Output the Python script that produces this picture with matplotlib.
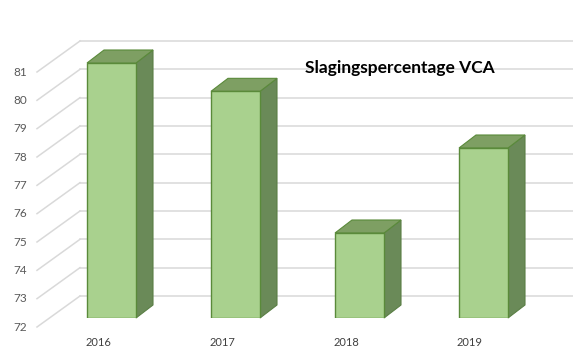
import numpy as np
import matplotlib.pyplot as plt
from matplotlib.patches import Polygon

jaren = ['2016', '2017', '2018', '2019']
slagings = [81, 80, 75, 78]
y_ticks = list(range(72, 82))
titel = 'Slagingspercentage VCA'

plt.rcParams['font.family'] = ['Lato', 'DejaVu Sans']

fig = plt.figure(figsize=(5.73, 3.55), dpi=100)
ax = fig.add_axes([0, 37 / 355, 1, 255 / 355])
ax.set_xlim(-111.5 / 124, (573 - 111.5) / 124)
ax.set_ylim(72, 81)
ax.axis('off')

# 3D-achtige verschuivingen (in data-eenheden)
px_x = 1 / 124
px_y = 1 / 28.33
wand_dx, wand_dy = 30.5 * px_x, 22 * px_y     # achterwand
vloer_dx, vloer_dy = -12.5 * px_x, -9 * px_y  # voorkant vloer
bar_dx, bar_dy = 17 * px_x, 13 * px_y         # diepte balk
breedte = 49 * px_x
basis = y_ticks[0]

grid_kleur = '#D9D9D9'
x_wand = (80 - 111.5) * px_x
for v in y_ticks:
    ax.plot([x_wand, ax.get_xlim()[1]], [v + wand_dy] * 2, color=grid_kleur,
            lw=1.1, zorder=1, clip_on=False)
    ax.plot([x_wand - wand_dx + vloer_dx, x_wand], [v + vloer_dy, v + wand_dy],
            color=grid_kleur, lw=1.1, zorder=1, clip_on=False)
    ax.text(x_wand - wand_dx + vloer_dx - 10 * px_x, v + vloer_dy, str(v),
            ha='right', va='center', fontsize=8.5, color='#595959')

x = np.arange(len(jaren))
ax.bar(x, np.array(slagings) - basis, bottom=basis, width=breedte,
       color='#A9D18E', edgecolor='#5A8A3A', linewidth=1, zorder=3)

for xi, v in zip(x, slagings):
    l, r = xi - breedte / 2, xi + breedte / 2
    zij = Polygon([(r, basis), (r + bar_dx, basis + bar_dy),
                   (r + bar_dx, v + bar_dy), (r, v)], closed=True,
                  facecolor='#6A8A58', edgecolor='#5A7F45', lw=0.8,
                  zorder=2, clip_on=False)
    top = Polygon([(l, v), (r, v), (r + bar_dx, v + bar_dy),
                   (l + bar_dx, v + bar_dy)], closed=True,
                  facecolor='#7E9F63', edgecolor='#5A8A3A', lw=0.8,
                  zorder=2, clip_on=False)
    ax.add_patch(zij)
    ax.add_patch(top)

for xi, jaar in zip(x, jaren):
    ax.text(xi - 13.5 * px_x, basis - 24 * px_y, jaar, ha='center',
            va='center', fontsize=8, color='#404040')

fig.text(400 / 573, 1 - 68 / 355, titel, ha='center', va='center',
         fontsize=12.5, fontweight='bold', color='black')

fig.savefig('out.png', dpi=100)
